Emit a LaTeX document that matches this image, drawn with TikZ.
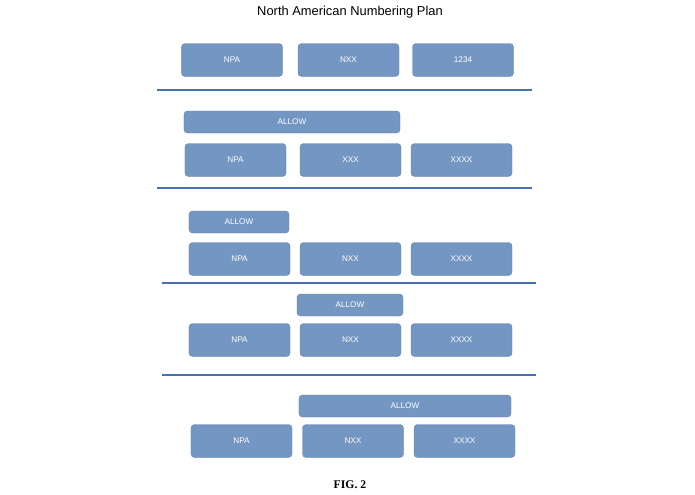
\documentclass[tikz,border=0pt]{standalone}
\usepackage{fontspec}
\setmainfont{Liberation Sans}
\newfontfamily\figfont{Liberation Serif}
\usetikzlibrary{positioning}
\definecolor{napBox}{RGB}{116,150,194}
\definecolor{napLine}{RGB}{72,112,178}
\tikzset{
  field/.style={fill=napBox, draw=napBox!85!black, line width=0.3pt, rounded corners=3pt,
    text=white, font=\fontsize{7}{8}\selectfont, minimum width=3.03cm, minimum height=0.99cm, inner sep=0pt},
  allow/.style={field, minimum height=0.66cm},
  sep/.style={napLine, line width=1pt}
}
\begin{document}
\begin{tikzpicture}[x=0.03cm,y=-0.03cm]
  \useasboundingbox (0,0) rectangle (695,494);
  \node[font=\fontsize{11}{13}\selectfont] (title) at (350,12) {North American Numbering Plan};

  % row 1
  \node[field] (npa1) at (232,60) {NPA};
  \node[field] (nxx1) at (348.5,60) {NXX};
  \node[field] (num1) at (463,60) {1234};
  \draw[sep] (157,90) -- (532,90);

  % row 2
  \node[allow, minimum width=6.48cm] (allow2) at (292,122) {ALLOW};
  \node[field] (npa2) at (235.5,160) {NPA};
  \node[field] (xxx2) at (350.5,160) {XXX};
  \node[field] (xxxx2) at (461.5,160) {XXXX};
  \draw[sep] (157,188) -- (532,188);

  % row 3
  \node[allow, minimum width=3cm] (allow3) at (239,222) {ALLOW};
  \node[field] (npa3) at (239.5,259) {NPA};
  \node[field] (nxx3) at (350.5,259) {NXX};
  \node[field] (xxxx3) at (461.5,259) {XXXX};
  \draw[sep] (162,283) -- (536,283);

  % row 4
  \node[allow, minimum width=3.18cm] (allow4) at (350,305) {ALLOW};
  \node[field] (npa4) at (239.5,340) {NPA};
  \node[field] (nxx4) at (350.5,340) {NXX};
  \node[field] (xxxx4) at (461.5,340) {XXXX};
  \draw[sep] (162,375) -- (536,375);

  % row 5
  \node[allow, minimum width=6.36cm] (allow5) at (405,406) {ALLOW};
  \node[field] (npa5) at (241.5,441) {NPA};
  \node[field] (nxx5) at (353,441) {NXX};
  \node[field] (xxxx5) at (464.5,441) {XXXX};

  \node[font=\figfont\bfseries\fontsize{10}{12}\selectfont] (fig) at (350,485) {FIG. 2};
\end{tikzpicture}
\end{document}
